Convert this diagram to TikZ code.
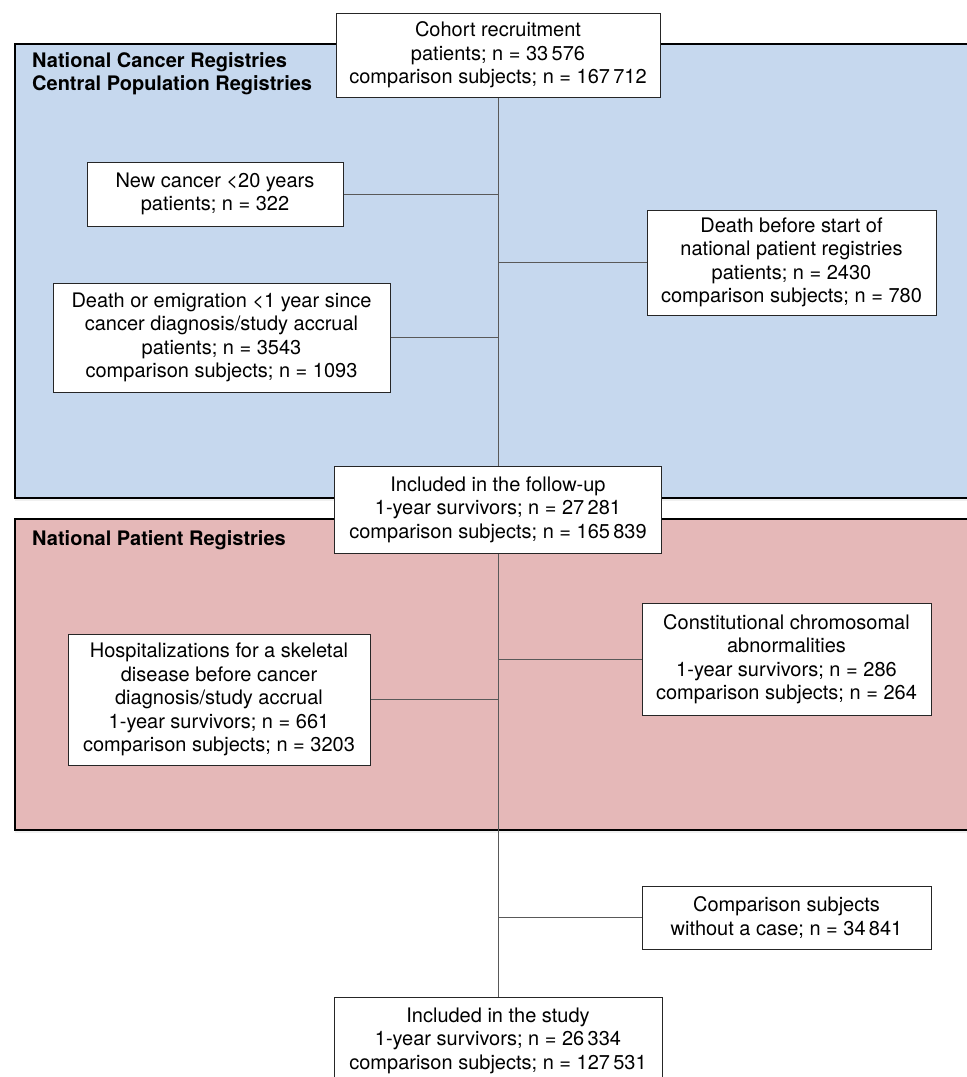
\documentclass[tikz,border=0pt]{standalone}
\usepackage{fontspec}
\setmainfont{TeX Gyre Heros}
\usetikzlibrary{positioning,shadows}
\definecolor{cancerblue}{HTML}{C6D8EE}
\definecolor{patientpink}{HTML}{E5B8B8}
\tikzset{
  flowbox/.style={draw=black!85, fill=white, line width=1pt, align=center,
    inner sep=0pt, font=\fontsize{20}{23.5}\selectfont},
  regionbg/.style={draw=black, line width=1.5pt, anchor=north west, inner sep=0pt,
    drop shadow={shadow xshift=0pt, shadow yshift=-3pt, opacity=0.12}},
  regionlab/.style={font=\fontsize{20}{22.5}\selectfont\bfseries, align=left,
    anchor=west, inner sep=0pt},
  link/.style={draw=black!65, line width=0.9pt},
}

\begin{document}
\begin{tikzpicture}[x=1pt, y=-1pt]
\useasboundingbox (0,0) rectangle (967,1077);
\clip (0,0) rectangle (967,1077);
% --- registry regions ---
\node[regionbg, fill=cancerblue, minimum width=980pt, minimum height=454pt] (cancerreg) at (14,43) {};
\node[regionbg, fill=patientpink, minimum width=980pt, minimum height=311pt] (patientreg) at (14,518) {};
\node[regionlab] (cancerlab) at (32,73.5) {National Cancer Registries\\Central Population Registries};
\node[regionlab] (patientlab) at (32,540) {National Patient Registries};
% --- main flow ---
\node[flowbox, minimum width=324pt, minimum height=84pt] (cohort) at (498,55) {Cohort recruitment\\patients; n = 33\,576\\comparison subjects; n = 167\,712};
\node[flowbox, minimum width=327pt, minimum height=87pt] (followup) at (498,509.5) {Included in the follow-up\\1-year survivors; n = 27\,281\\comparison subjects; n = 165\,839};
\node[flowbox, minimum width=328pt, minimum height=87pt] (study) at (498,1040.5) {Included in the study\\1-year survivors; n = 26\,334\\comparison subjects; n = 127\,531};
% --- exclusions ---
\node[flowbox, minimum width=256pt, minimum height=64pt] (newcancer) at (215,194) {New cancer <20 years\\patients; n = 322};
\node[flowbox, minimum width=337pt, minimum height=109pt] (deathemig) at (221.5,337.5) {Death or emigration <1 year since\\cancer diagnosis/study accrual\\patients; n = 3543\\comparison subjects; n = 1093};
\node[flowbox, minimum width=289pt, minimum height=105pt] (deathbefore) at (791.5,262.5) {Death before start of\\national patient registries\\patients; n = 2430\\comparison subjects; n = 780};
\node[flowbox, minimum width=302pt, minimum height=131pt] (skeletal) at (219,699.5) {Hospitalizations for a skeletal\\disease before cancer\\diagnosis/study accrual\\1-year survivors; n = 661\\comparison subjects; n = 3203};
\node[flowbox, minimum width=289pt, minimum height=112pt] (chromosomal) at (786.5,659) {Constitutional chromosomal\\abnormalities\\1-year survivors; n = 286\\comparison subjects; n = 264};
\node[flowbox, minimum width=289pt, minimum height=63pt] (nocase) at (786.5,917.5) {Comparison subjects\\without a case; n = 34\,841};
% --- links ---
\draw[link] (cohort) -- (followup);
\draw[link] (followup) -- (study);
\draw[link] (newcancer.east) -- (newcancer.east -| cohort.south);
\draw[link] (deathemig.east) -- (deathemig.east -| cohort.south);
\draw[link] (deathbefore.west) -- (deathbefore.west -| cohort.south);
\draw[link] (skeletal.east) -- (skeletal.east -| followup.south);
\draw[link] (chromosomal.west) -- (chromosomal.west -| followup.south);
\draw[link] (nocase.west) -- (nocase.west -| followup.south);
\end{tikzpicture}
\end{document}
